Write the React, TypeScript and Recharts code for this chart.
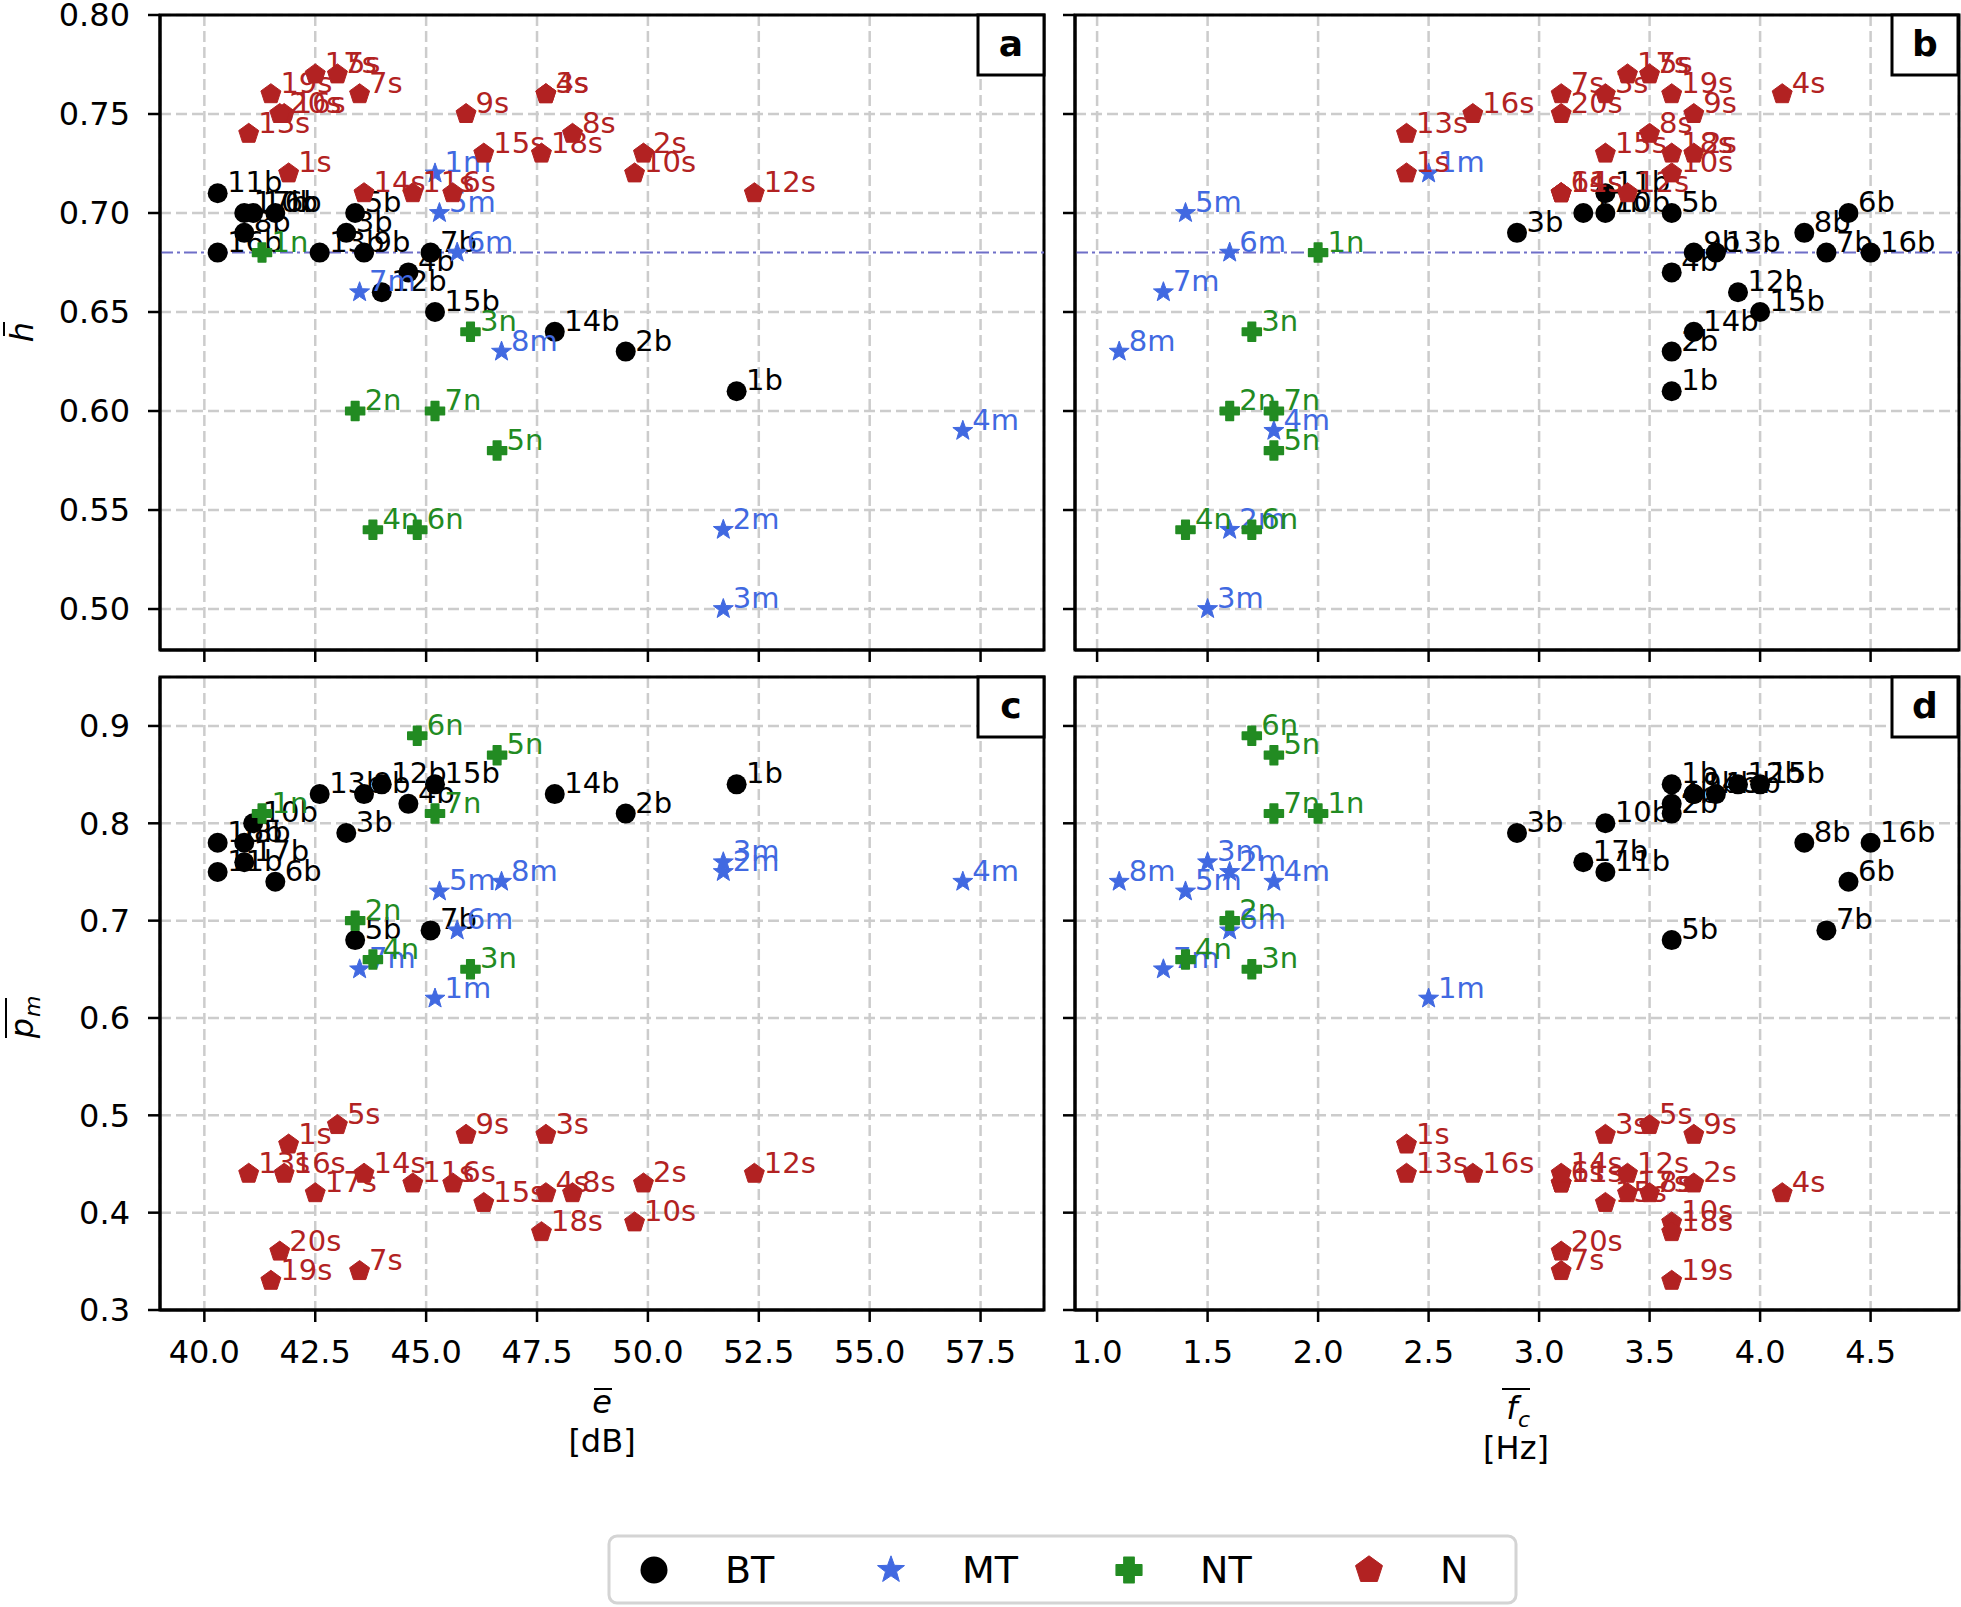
import React from "react";
import {
  ScatterChart,
  Scatter,
  XAxis,
  YAxis,
  CartesianGrid,
  ReferenceLine,
  ReferenceArea,
} from "recharts";

// BT samples
const btNames = ["1b", "2b", "3b", "4b", "5b", "6b", "7b", "8b", "9b", "10b", "11b", "12b", "13b", "14b", "15b", "16b", "17b"];
const btE = [52.0, 49.5, 43.2, 44.6, 43.4, 41.6, 45.1, 40.9, 43.6, 41.1, 40.3, 44.0, 42.6, 47.9, 45.2, 40.3, 40.9];
const btFc = [3.6, 3.6, 2.9, 3.6, 3.6, 4.4, 4.3, 4.2, 3.7, 3.3, 3.3, 3.9, 3.8, 3.7, 4.0, 4.5, 3.2];
const btH = [0.61, 0.63, 0.69, 0.67, 0.7, 0.7, 0.68, 0.69, 0.68, 0.7, 0.71, 0.66, 0.68, 0.64, 0.65, 0.68, 0.7];
const btPm = [0.84, 0.81, 0.79, 0.82, 0.68, 0.74, 0.69, 0.78, 0.83, 0.8, 0.75, 0.84, 0.83, 0.83, 0.84, 0.78, 0.76];

// MT samples
const mtNames = ["1m", "2m", "3m", "4m", "5m", "6m", "7m", "8m"];
const mtE = [45.2, 51.7, 51.7, 57.1, 45.3, 45.7, 43.5, 46.7];
const mtFc = [2.5, 1.6, 1.5, 1.8, 1.4, 1.6, 1.3, 1.1];
const mtH = [0.72, 0.54, 0.5, 0.59, 0.7, 0.68, 0.66, 0.63];
const mtPm = [0.62, 0.75, 0.76, 0.74, 0.73, 0.69, 0.65, 0.74];

// NT samples
const ntNames = ["1n", "2n", "3n", "4n", "5n", "6n", "7n"];
const ntE = [41.3, 43.4, 46.0, 43.8, 46.6, 44.8, 45.2];
const ntFc = [2.0, 1.6, 1.7, 1.4, 1.8, 1.7, 1.8];
const ntH = [0.68, 0.6, 0.64, 0.54, 0.58, 0.54, 0.6];
const ntPm = [0.81, 0.7, 0.65, 0.66, 0.87, 0.89, 0.81];

// N samples
const nNames = ["1s", "2s", "3s", "4s", "5s", "6s", "7s", "8s", "9s", "10s", "11s", "12s", "13s", "14s", "15s", "16s", "17s", "18s", "19s", "20s"];
const nE = [41.9, 49.9, 47.7, 47.7, 43.0, 45.6, 43.5, 48.3, 45.9, 49.7, 44.7, 52.4, 41.0, 43.6, 46.3, 41.8, 42.5, 47.6, 41.5, 41.7];
const nFc = [2.4, 3.7, 3.3, 4.1, 3.5, 3.1, 3.1, 3.5, 3.7, 3.6, 3.1, 3.4, 2.4, 3.1, 3.3, 2.7, 3.4, 3.6, 3.6, 3.1];
const nH = [0.72, 0.73, 0.76, 0.76, 0.77, 0.71, 0.76, 0.74, 0.75, 0.72, 0.71, 0.71, 0.74, 0.71, 0.73, 0.75, 0.77, 0.73, 0.76, 0.75];
const nPm = [0.47, 0.43, 0.48, 0.42, 0.49, 0.43, 0.34, 0.42, 0.48, 0.39, 0.43, 0.44, 0.44, 0.44, 0.41, 0.44, 0.42, 0.38, 0.33, 0.36];

// axes
const eTicks = [40, 42.5, 45, 47.5, 50, 52.5, 55, 57.5];
const fcTicks = [1, 1.5, 2, 2.5, 3, 3.5, 4, 4.5];
const hTicks = [0.5, 0.55, 0.6, 0.65, 0.7, 0.75, 0.8];
const pmTicks = [0.3, 0.4, 0.5, 0.6, 0.7, 0.8, 0.9];
const eDomain: [number, number] = [39, 58.93];
const fcDomain: [number, number] = [0.9, 4.9];
const hDomain: [number, number] = [0.4793, 0.8];
const pmDomain: [number, number] = [0.3, 0.9503];
const hRef = 0.68;

const FONT = "DejaVu Sans";

type Rec = { name: string; e: number; fc: number; h: number; pm: number };

const build = (names: string[], e: number[], fc: number[], h: number[], pm: number[]): Rec[] =>
  names.map((name, i) => ({ name, e: e[i], fc: fc[i], h: h[i], pm: pm[i] }));

const GROUPS = [
  { key: "BT", kind: "circle", color: "#000000", data: build(btNames, btE, btFc, btH, btPm) },
  { key: "MT", kind: "star", color: "#4169e1", data: build(mtNames, mtE, mtFc, mtH, mtPm) },
  { key: "NT", kind: "plus", color: "#228b22", data: build(ntNames, ntE, ntFc, ntH, ntPm) },
  { key: "N", kind: "pentagon", color: "#b22222", data: build(nNames, nE, nFc, nH, nPm) },
];

function polyPoints(cx: number, cy: number, n: number, rOuter: number, rInner?: number) {
  const pts: string[] = [];
  const count = rInner ? n * 2 : n;
  for (let i = 0; i < count; i++) {
    const a = -Math.PI / 2 + (i * 2 * Math.PI) / count;
    const r = rInner && i % 2 === 1 ? rInner : rOuter;
    pts.push(`${cx + r * Math.cos(a)},${cy + r * Math.sin(a)}`);
  }
  return pts.join(" ");
}

function Marker({ kind, cx, cy, color, s = 1 }: { kind: string; cx: number; cy: number; color: string; s?: number }) {
  if (kind === "circle") return <circle cx={cx} cy={cy} r={10 * s} fill={color} />;
  if (kind === "star")
    return (
      <polygon
        points={polyPoints(cx, cy, 5, 10.5 * s, 4.3 * s)}
        fill={color}
        stroke={color}
        strokeWidth={1}
        strokeLinejoin="round"
      />
    );
  if (kind === "plus") {
    const a = 3.8 * s;
    const r = 9.5 * s;
    const d = `M${cx - a},${cy - r}H${cx + a}V${cy - a}H${cx + r}V${cy + a}H${cx + a}V${cy + r}H${cx - a}V${cy + a}H${cx - r}V${cy - a}H${cx - a}Z`;
    return <path d={d} fill={color} stroke={color} strokeWidth={1.5} strokeLinejoin="round" />;
  }
  return (
    <polygon
      points={polyPoints(cx, cy, 5, 10.5 * s)}
      fill={color}
      stroke={color}
      strokeWidth={1}
      strokeLinejoin="round"
    />
  );
}

const makeShape = (kind: string, color: string) => (props: any) => {
  const { cx, cy, payload } = props;
  if (cx == null || cy == null) return <g />;
  return (
    <g>
      <Marker kind={kind} cx={cx} cy={cy} color={color} />
      <text x={cx + 9.5} y={cy - 1} fill={color} fontSize={29} fontFamily={FONT}>
        {payload.name}
      </text>
    </g>
  );
};

type PanelProps = {
  left: number;
  top: number;
  yAxisW: number;
  mTop: number;
  mRight: number;
  plotW: number;
  plotH: number;
  xAxisH: number;
  xKey: string;
  yKey: string;
  xDomain: [number, number];
  yDomain: [number, number];
  xTicks: number[];
  yTicks: number[];
  xDigits: number;
  yDigits: number;
  showX: boolean;
  showY: boolean;
  refY?: number;
};

function Panel(p: PanelProps) {
  const width = p.yAxisW + p.plotW + p.mRight;
  const height = p.mTop + p.plotH + p.xAxisH;
  const tickStyle = { fill: "#000", fontSize: 32, fontFamily: FONT };
  return (
    <div style={{ position: "absolute", left: p.left, top: p.top, width, height }}>
      <ScatterChart
        width={width}
        height={height}
        margin={{ top: p.mTop, right: p.mRight, bottom: 0, left: 0 }}
        style={{ overflow: "visible" }}
      >
        <CartesianGrid stroke="#cccccc" strokeDasharray="11 5" strokeWidth={2.5} />
        <XAxis
          type="number"
          dataKey={p.xKey}
          domain={p.xDomain}
          allowDataOverflow
          ticks={p.xTicks}
          interval={0}
          height={p.xAxisH}
          tickSize={12}
          tickMargin={18}
          tick={tickStyle}
          tickFormatter={(v: number) => (p.showX ? v.toFixed(p.xDigits) : "")}
          axisLine={{ stroke: "#000", strokeWidth: 3 }}
          tickLine={{ stroke: "#000", strokeWidth: 2.5 }}
        />
        <YAxis
          type="number"
          dataKey={p.yKey}
          domain={p.yDomain}
          allowDataOverflow
          ticks={p.yTicks}
          interval={0}
          width={p.yAxisW}
          tickSize={12}
          tickMargin={18}
          tick={tickStyle}
          tickFormatter={(v: number) => (p.showY ? v.toFixed(p.yDigits) : "")}
          axisLine={{ stroke: "#000", strokeWidth: 3 }}
          tickLine={{ stroke: "#000", strokeWidth: 2.5 }}
        />
        {p.refY !== undefined && (
          <ReferenceLine y={p.refY} stroke="#6f6fc8" strokeWidth={2} strokeDasharray="13 4 3 4" />
        )}
        <ReferenceArea
          x1={p.xDomain[0]}
          x2={p.xDomain[1]}
          y1={p.yDomain[0]}
          y2={p.yDomain[1]}
          fill="none"
          stroke="#000"
          strokeWidth={3}
          ifOverflow="visible"
        />
        {GROUPS.map((g) => (
          <Scatter
            key={g.key}
            name={g.key}
            data={g.data}
            fill={g.color}
            shape={makeShape(g.kind, g.color)}
            isAnimationActive={false}
          />
        ))}
      </ScatterChart>
    </div>
  );
}

const LETTER_BOXES = [
  { t: "a", x: 978, y: 15 },
  { t: "b", x: 1892, y: 15 },
  { t: "c", x: 978, y: 677 },
  { t: "d", x: 1892, y: 677 },
];

const LEGEND_ITEMS = [
  { kind: "circle", color: "#000000", label: "BT", mx: 654, tx: 725 },
  { kind: "star", color: "#4169e1", label: "MT", mx: 891, tx: 962 },
  { kind: "plus", color: "#228b22", label: "NT", mx: 1129, tx: 1200 },
  { kind: "pentagon", color: "#b22222", label: "N", mx: 1369, tx: 1440 },
];

export default function App() {
  const common = { plotW: 884, mRight: 0 };
  return (
    <div style={{ position: "absolute", left: 0, top: 0, width: 1961, height: 1607, background: "#fff", fontFamily: FONT }}>
      <Panel
        {...common}
        left={0}
        top={0}
        yAxisW={160}
        mRight={10}
        mTop={15}
        plotH={635}
        xAxisH={20}
        xKey="e"
        yKey="h"
        xDomain={eDomain}
        yDomain={hDomain}
        xTicks={eTicks}
        yTicks={hTicks}
        xDigits={1}
        yDigits={2}
        showX={false}
        showY={true}
        refY={hRef}
      />
      <Panel
        {...common}
        left={1055}
        top={0}
        yAxisW={20}
        mRight={2}
        mTop={15}
        plotH={635}
        xAxisH={20}
        xKey="fc"
        yKey="h"
        xDomain={fcDomain}
        yDomain={hDomain}
        xTicks={fcTicks}
        yTicks={hTicks}
        xDigits={1}
        yDigits={2}
        showX={false}
        showY={false}
        refY={hRef}
      />
      <Panel
        {...common}
        left={0}
        top={672}
        yAxisW={160}
        mRight={10}
        mTop={5}
        plotH={633}
        xAxisH={70}
        xKey="e"
        yKey="pm"
        xDomain={eDomain}
        yDomain={pmDomain}
        xTicks={eTicks}
        yTicks={pmTicks}
        xDigits={1}
        yDigits={1}
        showX={true}
        showY={true}
      />
      <Panel
        {...common}
        left={1055}
        top={672}
        yAxisW={20}
        mRight={2}
        mTop={5}
        plotH={633}
        xAxisH={70}
        xKey="fc"
        yKey="pm"
        xDomain={fcDomain}
        yDomain={pmDomain}
        xTicks={fcTicks}
        yTicks={pmTicks}
        xDigits={1}
        yDigits={1}
        showX={true}
        showY={false}
      />

      <svg
        width={1961}
        height={1607}
        style={{ position: "absolute", left: 0, top: 0, pointerEvents: "none" }}
        fontFamily={FONT}
      >
        {LETTER_BOXES.map((b) => (
          <g key={b.t}>
            <rect x={b.x} y={b.y} width={66} height={60} fill="#fff" stroke="#000" strokeWidth={3} />
            <text x={b.x + 33} y={b.y + 41} textAnchor="middle" fontSize={36} fontWeight="bold" fill="#000">
              {b.t}
            </text>
          </g>
        ))}

        {/* y titles */}
        <g transform="translate(33,332) rotate(-90)">
          <text x={0} y={0} textAnchor="middle" fontSize={32} fontStyle="italic" fill="#000">
            h
          </text>
          <line x1={-4} x2={10} y1={-29} y2={-29} stroke="#000" strokeWidth={2} />
        </g>
        <g transform="translate(33,1020) rotate(-90)">
          <text x={-8} y={0} textAnchor="middle" fontSize={32} fontStyle="italic" fill="#000">
            p
          </text>
          <text x={3} y={7} fontSize={22} fontStyle="italic" fill="#000">
            m
          </text>
          <line x1={-18} x2={22} y1={-27} y2={-27} stroke="#000" strokeWidth={2} />
        </g>

        {/* x titles */}
        <text x={602} y={1413} textAnchor="middle" fontSize={32} fontStyle="italic" fill="#000">
          e
        </text>
        <line x1={594} x2={612} y1={1389} y2={1389} stroke="#000" strokeWidth={2} />
        <text x={602} y={1452} textAnchor="middle" fontSize={32} fill="#000">
          [dB]
        </text>

        <text x={1512} y={1419} textAnchor="middle" fontSize={32} fontStyle="italic" fill="#000">
          f
        </text>
        <text x={1518} y={1427} fontSize={22} fontStyle="italic" fill="#000">
          c
        </text>
        <line x1={1502} x2={1530} y1={1389} y2={1389} stroke="#000" strokeWidth={2} />
        <text x={1516} y={1459} textAnchor="middle" fontSize={32} fill="#000">
          [Hz]
        </text>

        {/* legend */}
        <rect x={609} y={1536} width={907} height={67} rx={8} fill="#fff" stroke="#d4d4d4" strokeWidth={3} />
        {LEGEND_ITEMS.map((it) => (
          <g key={it.label}>
            <Marker kind={it.kind} cx={it.mx} cy={1570} color={it.color} s={1.35} />
            <text x={it.tx} y={1583} fontSize={38} fill="#000">
              {it.label}
            </text>
          </g>
        ))}
      </svg>
    </div>
  );
}
